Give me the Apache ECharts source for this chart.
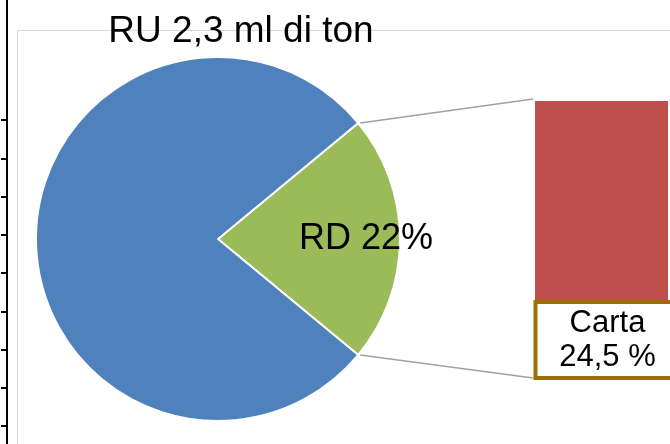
<!DOCTYPE html>
<html>
<head>
	<meta charset="utf-8">
	<title></title>
	<style type="text/css">
	html, body { margin: 0; padding: 0; background: #fff; }
	#main { width: 670px; height: 444px; }
	</style>
</head>
<body>
	<div id="main"></div>
	<script src="https://cdn.jsdelivr.net/npm/echarts@6/dist/echarts.min.js"></script>
	<script>
	var titleText = 'RU 2,3 ml di ton';
	var pieNames = ['RD', 'RU'];
	var pieValues = [22, 78];
	var barNames = ['Carta'];
	var barValues = [24.5];
	// the cut-off axis of the neighbouring chart on the left edge
	var sideTicks = ['', '', '', '', '', '', '', '', '', '', '', '', '', ''];

	var font = 'Liberation Sans, Arial, sans-serif';
	var cx = 218, cy = 239, r = 182;
	var total = pieValues[0] + pieValues[1];
	var half = pieValues[0] / total * 180; // green slice centred on 3 o'clock

	var chart = echarts.init(document.getElementById('main'));

	var border = {
		type: 'rect',
		z: 0,
		silent: true,
		shape: { x: 17.5, y: 30.5, width: 700, height: 500 },
		style: { fill: 'none', stroke: '#d9d9d9', lineWidth: 1 }
	};

	var option = {
		animation: false,
		title: {
			text: titleText,
			left: 236,
			top: 8,
			textAlign: 'center',
			textStyle: { fontFamily: font, fontSize: 37, fontWeight: 'normal', color: '#000' }
		},
		grid: [
			{ left: 535, right: 2, top: 101, bottom: 142, outerBoundsMode: 'none' },
			{ left: 7, width: 10, top: -33, height: 38.25 * 13, outerBoundsMode: 'none' }
		],
		xAxis: [
			{ gridIndex: 0, type: 'category', data: barNames, show: false },
			{ gridIndex: 1, type: 'value', show: false }
		],
		yAxis: [
			{ gridIndex: 0, type: 'value', min: 0, max: barValues[0], show: false },
			{
				gridIndex: 1,
				type: 'category',
				data: sideTicks,
				boundaryGap: false,
				inverse: true,
				axisLine: { lineStyle: { color: '#000', width: 2 } },
				axisTick: {
					length: 6,
					lineStyle: { color: '#000', width: 2 },
					interval: function(i) { return i >= 4; }
				},
				axisLabel: { show: false },
				splitLine: { show: false }
			}
		],
		graphic: [border],
		series: [{
			type: 'pie',
			silent: true,
			center: [cx, cy],
			radius: r,
			startAngle: half,
			clockwise: true,
			color: ['#9bbb59', '#4f81bd'],
			itemStyle: { borderColor: '#fff', borderWidth: 2 },
			label: {
				show: true,
				position: 'inside',
				fontFamily: font,
				fontSize: 36,
				color: '#000',
				formatter: function(p) { return p.name + ' ' + p.value + '%'; }
			},
			labelLine: { show: false },
			labelLayout: { dx: 27 },
			data: [
				{ name: pieNames[0], value: pieValues[0] },
				{ name: pieNames[1], value: pieValues[1], label: { show: false } }
			]
		}, {
			type: 'bar',
			silent: true,
			xAxisIndex: 0,
			yAxisIndex: 0,
			barWidth: '100%',
			itemStyle: { color: '#c0504d' },
			label: {
				show: true,
				position: 'bottom',
				distance: 0,
				offset: [6, 2],
				fontFamily: font,
				fontSize: 31,
				lineHeight: 34,
				color: '#000',
				backgroundColor: '#fff',
				borderColor: '#9c7000',
				borderWidth: 4,
				width: 132,
				padding: [2, 4],
				align: 'center',
				formatter: function(p) {
					return p.name + '\n' + String(p.value).replace('.', ',') + ' %';
				}
			},
			data: barValues
		}]
	};
	chart.setOption(option);

	// connector lines from the green slice edges to the bar + its label box
	var rad = half * Math.PI / 180;
	var px = cx + r * Math.cos(rad);
	var barTop = chart.convertToPixel({ xAxisIndex: 0, yAxisIndex: 0 }, [0, barValues[0]])[1];
	var barBottom = chart.convertToPixel({ xAxisIndex: 0, yAxisIndex: 0 }, [0, 0])[1];
	var barLeft = 535 - 2;
	chart.setOption({
		graphic: [border, {
			type: 'line',
			silent: true,
			shape: { x1: px + 2, y1: cy - r * Math.sin(rad), x2: barLeft, y2: barTop - 2 },
			style: { stroke: '#a0a0a0', lineWidth: 1.5 }
		}, {
			type: 'line',
			silent: true,
			shape: { x1: px + 2, y1: cy + r * Math.sin(rad), x2: barLeft, y2: barBottom + 76 },
			style: { stroke: '#a0a0a0', lineWidth: 1.5 }
		}]
	});
	</script>
</body>
</html>
